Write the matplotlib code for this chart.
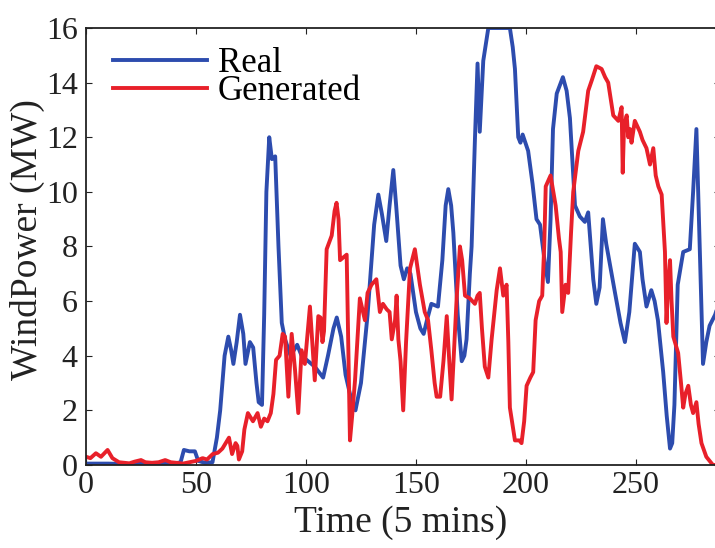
import matplotlib
matplotlib.use('Agg')
import matplotlib.pyplot as plt

# time index (5 min steps) and power in MW
real_t = [0, 10, 20, 30, 40, 43, 44.5, 47, 49.5, 51, 54, 57.5, 59.5, 61, 63, 64.7, 66, 67,
          68.5, 70, 71.5, 72.5, 74.5, 76, 77.5, 78.5, 80, 81, 82, 83.3, 84.5, 86, 87.5, 89,
          90.5, 93, 96, 98, 101, 104, 107.8, 110, 112.5, 114, 116, 118, 120, 122.5, 125, 128,
          131, 132.9, 134.5, 136.5, 138, 139.7, 141, 143, 144.5, 146, 147.5, 150, 152, 153.5,
          155, 157, 160, 162, 163.5, 164.7, 166, 167, 169, 170.8, 172, 173, 174.5, 175.3,
          176.8, 178, 179, 180.6, 182.9, 186, 189, 192.7, 194, 195, 196.5, 197.5, 198.5, 201,
          203, 204.8, 206.4, 208.6, 210, 211.2, 212.3, 214, 216.8, 218.5, 220, 222.3, 224.5,
          226.8, 228.3, 230.6, 232, 233.5, 235, 236.5, 238.5, 240.5, 243, 245, 247, 249.5,
          251.8, 253, 254.8, 257, 258.5, 260, 262.4, 264, 265.5, 266.5, 267.5, 269, 271.5,
          274.5, 276, 277.5, 279, 280.5, 282, 283.5, 286, 288]
real_p = [0.05, 0.05, 0.03, 0.05, 0.05, 0.1, 0.55, 0.5, 0.5, 0.15, 0.08, 0.1, 1.0, 2.0, 4.0,
          4.7, 4.2, 3.7, 4.5, 5.5, 4.8, 3.7, 4.5, 4.3, 3.0, 2.3, 2.2, 5.5, 10.0, 12.0, 11.2,
          11.3, 8.0, 5.2, 4.6, 4.0, 4.4, 4.0, 3.8, 3.6, 3.2, 4.0, 5.0, 5.4, 4.7, 3.3, 2.6,
          2.0, 3.0, 5.5, 8.8, 9.9, 9.2, 8.2, 9.5, 10.8, 9.5, 7.3, 6.8, 7.2, 7.0, 5.6, 5.0,
          4.8, 5.3, 5.9, 5.8, 7.5, 9.5, 10.1, 9.5, 8.5, 5.5, 3.8, 4.0, 4.6, 7.0, 8.0, 11.9,
          14.7, 12.2, 14.8, 16.0, 16.0, 16.0, 16.0, 15.3, 14.5, 12.0, 11.8, 12.1, 11.5, 10.3,
          9.0, 8.8, 7.4, 6.7, 9.0, 12.3, 13.6, 14.2, 13.7, 12.7, 9.5, 9.1, 8.9, 9.25, 6.8,
          5.9, 6.5, 9.0, 8.1, 7.2, 6.3, 5.2, 4.5, 5.6, 8.1, 7.8, 6.8, 5.8, 6.4, 6.0, 5.3,
          3.4, 1.8, 0.6, 0.8, 2.2, 6.6, 7.8, 7.9, 10.0, 12.3, 8.0, 3.7, 4.5, 5.1, 5.5, 6.0]

gen_t = [0, 2, 4.5, 6.8, 9.8, 12, 15, 19.7, 22, 25, 27, 30, 33, 36, 38.5, 41, 44, 47, 50, 53,
         55, 57.6, 60, 62, 63.5, 65, 66.4, 68, 68.8, 69.5, 71, 72, 73.6, 75.9, 78, 79.5, 81,
         82.5, 84, 85.2, 86.4, 88, 89.4, 90.5, 92, 93.5, 95, 96.5, 98, 99.5, 101.8, 104,
         105.6, 106.6, 107.5, 108.2, 109.4, 111.7, 113, 113.9, 114.8, 115.5, 117, 118.5,
         119.3, 120, 121, 122.3, 124.5, 126.8, 128, 129.8, 132, 133.6, 135, 136.7, 138, 139,
         140.5, 141.2, 142, 143, 144.2, 145.5, 147.3, 149.5, 151.8, 154, 155.5, 157, 158.5,
         159.4, 161, 162.5, 164, 165, 166.2, 167.5, 168.5, 170, 171, 172.3, 174.5, 176.8,
         178, 179, 180, 181.3, 182.9, 184.4, 186.7, 188.2, 189.7, 191.2, 192, 192.7, 195,
         197, 198, 199.2, 200.3, 202, 203.3, 204.4, 206, 207.4, 208.3, 209, 211.2, 213.5,
         215, 215.8, 216.5, 218, 219.2, 220.5, 221.5, 223.8, 226, 228.3, 230, 232, 234.4,
         236, 237.4, 239.7, 242, 243.5, 244, 244.6, 245.8, 246.5, 247.3, 248, 249.5, 251.8,
         253, 254.8, 256.4, 257.9, 259, 260.2, 261.7, 263.2, 263.9, 264.6, 265.5, 266.2,
         267, 269.2, 270.5, 271.5, 272.5, 273.8, 275, 276, 277.5, 278.5, 279.8, 282, 285, 288]
gen_p = [0.3, 0.25, 0.43, 0.3, 0.55, 0.25, 0.1, 0.06, 0.12, 0.18, 0.1, 0.08, 0.1, 0.18, 0.1,
         0.08, 0.05, 0.1, 0.15, 0.25, 0.2, 0.4, 0.45, 0.6, 0.8, 1.0, 0.4, 0.8, 0.7, 0.2, 0.5,
         1.3, 1.9, 1.6, 1.9, 1.4, 1.7, 1.6, 1.9, 2.6, 3.85, 4.0, 4.8, 4.7, 2.5, 4.8, 3.5, 1.9,
         4.2, 3.7, 5.8, 3.1, 5.45, 5.4, 4.5, 4.9, 7.9, 8.4, 9.3, 9.6, 9.0, 7.5, 7.6, 7.7, 4.0,
         0.9, 1.8, 3.1, 6.1, 5.3, 6.3, 6.6, 6.8, 5.6, 5.9, 5.7, 5.6, 4.6, 5.3, 6.2, 4.6, 3.8,
         2.0, 4.5, 7.2, 7.9, 6.6, 5.6, 5.3, 4.2, 3.0, 2.5, 2.5, 3.8, 5.45, 4.0, 2.4, 4.5, 6.1,
         8.0, 7.5, 6.2, 6.1, 5.9, 6.2, 6.3, 5.0, 3.6, 3.2, 4.6, 6.4, 7.2, 6.2, 6.6, 4.5, 2.1,
         0.9, 0.9, 0.8, 1.6, 2.9, 3.2, 3.4, 5.3, 6.0, 6.2, 8.0, 10.2, 10.6, 9.5, 8.3, 7.8,
         5.6, 6.6, 6.3, 8.5, 10.0, 11.5, 12.2, 13.7, 14.1, 14.6, 14.5, 14.2, 14.0, 12.8, 12.6,
         13.1, 10.7, 12.4, 12.8, 12.0, 12.3, 11.8, 12.6, 12.2, 11.9, 11.6, 11.0, 11.6, 10.6,
         10.2, 9.9, 7.8, 5.2, 6.5, 7.5, 6.0, 4.7, 4.1, 3.0, 2.1, 2.6, 2.9, 2.2, 1.9, 2.3, 1.5,
         0.8, 0.3, 0.0, 0.0]

xticks = [0, 50, 100, 150, 200, 250]
yticks = [0, 2, 4, 6, 8, 10, 12, 14, 16]

plt.rcParams['font.family'] = ['Liberation Serif', 'DejaVu Serif']

fig = plt.figure(figsize=(7.15, 5.48), dpi=100)
ax = fig.add_axes([0.1203, 0.1515, 0.886, 0.7974])

ax.plot(real_t, real_p, color='#2d4cae', lw=2.8, label='Real')
ax.plot(gen_t, gen_p, color='#e8202a', lw=2.8, label='Generated')

ax.set_xlim(0, 288)
ax.set_ylim(0, 16)
ax.set_xticks(xticks)
ax.set_yticks(yticks)
ax.tick_params(direction='in', top=True, right=True, length=4, width=0.8,
               labelsize=23, colors='#222222', pad=4)
ax.tick_params(axis='y', pad=6)
for s in ax.spines.values():
    s.set_linewidth(1.3)
    s.set_color('#222222')

ax.set_xlabel('Time (5 mins)', fontsize=27, color='#222222')
ax.set_ylabel('WindPower (MW)', fontsize=27, color='#222222')
ax.xaxis.set_label_coords(0.496, -0.092)
ax.yaxis.set_label_coords(-0.064, 0.515)

ax.legend(loc='upper left', bbox_to_anchor=(0.0126, 1.0), frameon=False, fontsize=25,
          handlelength=2.7, handletextpad=0.32, labelspacing=-0.14, borderaxespad=0.25,
          borderpad=0.3)

fig.savefig('out.png', dpi=100)
